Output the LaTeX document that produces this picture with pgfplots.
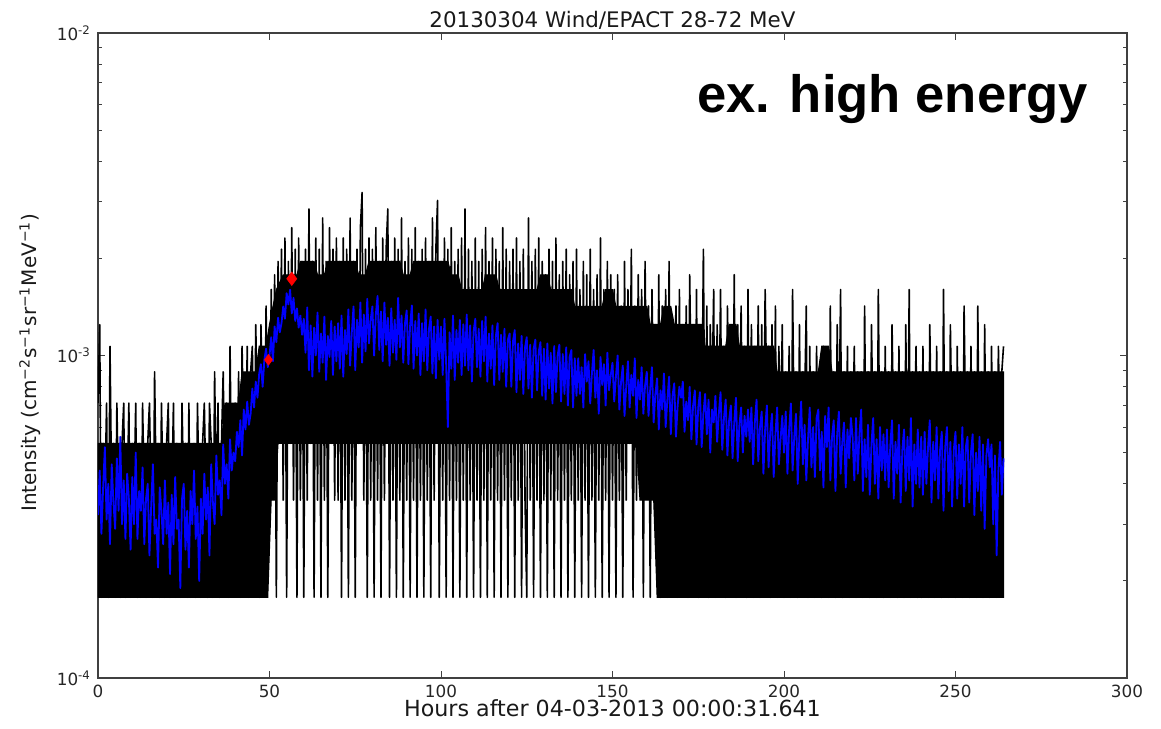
\documentclass[border=0pt]{standalone}
\usepackage{pgfplots}
\usepackage{pgfplotstable}
\pgfplotsset{compat=1.18}
\usepackage{fontspec}
\setmainfont{DejaVu Sans}
\newfontfamily\arialf{Liberation Sans}

% black: counts in units of 1.78e-4, sampled every 0.5 h from 0 h
\pgfplotstableread[row sep=\\]{k\\%
4\\7\\1\\3\\2\\4\\1\\6\\2\\3\\1\\4\\2\\1\\3\\4\\1\\2\\4\\1\\%
3\\2\\4\\1\\3\\1\\4\\2\\1\\3\\4\\2\\1\\5\\2\\3\\1\\4\\2\\1\\%
3\\4\\1\\2\\4\\1\\3\\2\\1\\4\\2\\3\\1\\4\\1\\2\\3\\1\\4\\2\\%
1\\3\\4\\2\\1\\4\\3\\1\\5\\2\\4\\1\\3\\5\\2\\4\\1\\6\\2\\3\\%
4\\2\\5\\1\\6\\3\\2\\6\\1\\5\\6\\2\\7\\3\\1\\7\\4\\2\\8\\3\\%
2\\9\\3\\10\\1\\11\\4\\12\\2\\13\\1\\11\\3\\14\\2\\12\\1\\13\\2\\11\\%
1\\12\\2\\16\\3\\11\\1\\13\\2\\12\\1\\15\\2\\11\\1\\14\\3\\12\\2\\13\\%
2\\11\\1\\13\\2\\12\\1\\15\\2\\11\\1\\12\\3\\14\\18\\2\\12\\1\\13\\2\\%
12\\1\\14\\2\\11\\1\\13\\2\\12\\16\\1\\11\\2\\13\\1\\12\\2\\15\\1\\11\\%
2\\13\\1\\12\\2\\14\\1\\11\\2\\12\\1\\13\\2\\11\\1\\15\\2\\12\\17\\1\\%
11\\2\\13\\1\\12\\2\\14\\1\\11\\2\\12\\1\\13\\2\\16\\1\\12\\2\\11\\1\\%
13\\2\\11\\1\\12\\2\\14\\1\\11\\2\\13\\1\\12\\2\\11\\1\\14\\2\\12\\1\\%
11\\2\\12\\1\\13\\2\\11\\1\\12\\2\\1\\15\\2\\11\\1\\12\\2\\13\\1\\11\\%
2\\10\\1\\12\\2\\11\\1\\13\\2\\10\\1\\11\\2\\12\\1\\10\\2\\11\\1\\12\\%
2\\9\\1\\11\\2\\10\\1\\12\\2\\9\\1\\10\\2\\13\\1\\9\\2\\11\\1\\10\\%
2\\9\\1\\10\\2\\8\\1\\11\\2\\9\\3\\12\\1\\8\\2\\10\\3\\9\\1\\11\\%
3\\8\\1\\9\\4\\7\\2\\10\\1\\8\\3\\9\\1\\11\\2\\7\\4\\8\\1\\9\\%
2\\7\\3\\8\\1\\10\\4\\7\\2\\9\\1\\7\\3\\12\\2\\8\\1\\7\\4\\9\\%
1\\7\\3\\9\\2\\6\\1\\8\\4\\7\\2\\10\\1\\7\\3\\8\\2\\6\\1\\9\\%
2\\7\\1\\6\\3\\8\\1\\7\\2\\9\\4\\6\\1\\7\\2\\8\\1\\6\\3\\7\\%
1\\5\\2\\6\\1\\9\\3\\5\\1\\7\\2\\5\\4\\8\\1\\6\\2\\5\\1\\6\\%
2\\5\\1\\6\\3\\5\\1\\8\\2\\5\\1\\7\\3\\9\\1\\5\\2\\6\\1\\5\\%
3\\6\\1\\5\\2\\5\\1\\8\\2\\5\\1\\7\\3\\5\\1\\9\\2\\5\\1\\6\\%
2\\5\\1\\7\\3\\5\\1\\6\\2\\5\\1\\7\\2\\9\\1\\5\\3\\6\\1\\5\\%
1\\6\\2\\5\\1\\7\\3\\5\\1\\6\\2\\5\\1\\9\\2\\5\\1\\7\\3\\5\\%
1\\6\\2\\5\\1\\8\\3\\5\\1\\6\\2\\5\\1\\8\\2\\5\\1\\7\\2\\5\\%
1\\6\\2\\5\\1\\6\\3\\5\\6\\%
}\blackdata

% dense core of the black trace: upper edge left to right, then lower edge right to left
\pgfplotstableread[row sep=\\]{h v\\%
0 5.34e-4\\ 36 5.34e-4\\ 37 7.12e-4\\ 41 7.12e-4\\ 42 8.9e-4\\ 46 8.9e-4\\ 47 1.07e-3\\ 49 1.07e-3\\ 50 1.25e-3\\ 51 1.42e-3\\ 52 1.6e-3\\ 54 1.78e-3\\%
58 1.78e-3\\ 59 1.96e-3\\ 63 1.96e-3\\ 64 1.78e-3\\ 66 1.78e-3\\ 67 1.96e-3\\ 75 1.96e-3\\ 76 1.78e-3\\ 78 1.78e-3\\ 79 1.96e-3\\ 88 1.96e-3\\ 89 1.78e-3\\%
91 1.78e-3\\ 92 1.96e-3\\ 102 1.96e-3\\ 103 1.78e-3\\ 105 1.78e-3\\ 106 1.6e-3\\ 112 1.6e-3\\ 113 1.78e-3\\ 116 1.78e-3\\ 117 1.6e-3\\ 128 1.6e-3\\ 129 1.78e-3\\%
131 1.78e-3\\ 132 1.6e-3\\ 138 1.6e-3\\ 139 1.42e-3\\ 147 1.42e-3\\ 148 1.6e-3\\ 150 1.6e-3\\ 151 1.42e-3\\ 160 1.42e-3\\ 161 1.25e-3\\ 164 1.25e-3\\ 165 1.42e-3\\%
167 1.42e-3\\ 168 1.25e-3\\ 176 1.25e-3\\ 177 1.07e-3\\ 183 1.07e-3\\ 184 1.25e-3\\ 186 1.25e-3\\ 187 1.07e-3\\ 197 1.07e-3\\ 198 8.9e-4\\ 210 8.9e-4\\ 211 1.07e-3\\%
213 1.07e-3\\ 214 8.9e-4\\ 264 8.9e-4\\%
264 1.78e-4\\ 163 1.78e-4\\ 162 3.56e-4\\ 158 3.56e-4\\ 157 5.34e-4\\ 52.5 5.34e-4\\ 51.5 3.56e-4\\ 50.5 3.56e-4\\ 49.5 1.78e-4\\ 0 1.78e-4\\%
}\coredata

% blue: intensity in units of 1e-4, sampled every 0.5 h from 0 h
\pgfplotstableread[row sep=\\]{b\\%
3.2\\4.4\\2.8\\3.9\\5.2\\3.1\\4.0\\2.6\\4.6\\3.5\\2.9\\4.8\\3.3\\5.6\\3.0\\4.1\\2.7\\4.3\\3.6\\2.5\\%
4.2\\3.0\\5.0\\2.7\\3.8\\3.3\\4.5\\2.6\\3.6\\4.0\\2.4\\3.4\\4.6\\2.8\\3.1\\2.2\\3.9\\3.3\\2.6\\4.1\\%
2.8\\3.5\\2.1\\3.7\\2.6\\4.2\\2.9\\3.1\\1.9\\3.6\\4.0\\2.5\\3.3\\2.2\\3.8\\3.0\\4.4\\2.7\\3.4\\2.0\\%
3.6\\2.8\\4.3\\3.1\\3.9\\2.4\\4.6\\3.5\\3.0\\4.9\\3.7\\4.1\\3.2\\5.3\\4.0\\4.6\\3.6\\5.5\\4.4\\5.0\\%
4.7\\5.8\\5.2\\6.3\\4.9\\6.8\\5.9\\7.2\\6.1\\6.6\\7.9\\6.9\\8.3\\7.4\\8.8\\9.4\\8.0\\9.7\\10.5\\9.2\\%
10.0\\11.4\\9.6\\12.3\\11.0\\13.1\\11.8\\12.6\\14.2\\13.0\\15.6\\14.4\\16.0\\13.5\\15.1\\12.8\\14.0\\12.2\\13.3\\11.6\\%
13.0\\10.2\\14.1\\9.0\\12.4\\8.6\\12.2\\10.0\\13.6\\8.9\\11.7\\9.5\\13.2\\8.4\\11.5\\9.9\\12.8\\8.7\\12.3\\9.6\\%
12.6\\9.1\\13.3\\8.6\\12.0\\10.1\\13.9\\9.3\\11.8\\14.2\\9.0\\12.9\\10.6\\14.6\\9.5\\13.4\\10.3\\15.0\\10.9\\12.9\\%
14.2\\10.0\\13.4\\15.3\\10.4\\13.7\\9.6\\14.6\\10.8\\13.1\\9.3\\14.0\\10.2\\12.9\\9.7\\15.1\\10.6\\13.3\\9.5\\12.6\\%
13.8\\9.4\\12.4\\14.3\\9.1\\12.8\\10.0\\13.5\\8.7\\12.6\\9.6\\13.9\\9.0\\12.1\\13.2\\8.8\\12.3\\8.5\\12.9\\9.7\\%
12.3\\8.7\\13.0\\9.4\\6.0\\11.8\\9.1\\13.3\\8.4\\12.0\\9.5\\12.9\\8.7\\12.5\\9.3\\13.4\\9.0\\12.4\\8.3\\11.9\\%
13.0\\9.2\\12.1\\8.6\\12.8\\9.6\\13.2\\8.3\\11.7\\9.1\\12.4\\8.1\\11.5\\12.6\\8.4\\11.6\\8.9\\12.1\\8.0\\11.2\\%
11.7\\8.0\\11.1\\12.0\\7.7\\10.9\\8.4\\11.5\\7.6\\10.6\\11.4\\7.9\\10.8\\7.4\\10.5\\11.2\\7.8\\10.3\\11.0\\7.5\\%
10.5\\7.3\\10.9\\7.9\\10.2\\7.1\\10.7\\7.7\\10.0\\10.8\\7.2\\10.1\\7.6\\10.6\\7.0\\9.9\\10.4\\6.9\\9.8\\7.5\\%
9.8\\7.6\\9.2\\6.9\\10.1\\8.3\\9.6\\7.1\\8.8\\10.4\\7.4\\9.0\\6.6\\9.9\\8.1\\9.4\\7.0\\10.2\\7.8\\8.7\\%
9.5\\7.2\\8.6\\10.0\\6.8\\8.3\\9.3\\6.5\\8.0\\9.6\\6.9\\8.7\\7.5\\9.8\\6.4\\8.4\\7.3\\9.2\\6.6\\8.1\\%
8.9\\6.5\\7.9\\9.2\\6.2\\7.6\\8.5\\5.9\\7.8\\6.8\\8.8\\6.0\\7.3\\8.6\\5.7\\7.5\\8.2\\5.6\\7.0\\8.0\\%
7.4\\8.3\\5.8\\7.2\\6.3\\8.0\\5.5\\7.0\\7.8\\5.3\\6.9\\7.7\\5.2\\6.6\\7.6\\5.7\\7.3\\5.0\\6.8\\6.2\\%
7.5\\5.4\\6.6\\7.7\\5.1\\6.4\\7.3\\4.9\\6.3\\7.0\\4.8\\6.2\\7.4\\4.7\\6.1\\6.9\\5.0\\6.5\\5.6\\6.8\\%
5.4\\6.9\\4.6\\6.2\\7.3\\4.7\\6.0\\6.7\\4.3\\5.9\\7.0\\4.5\\5.8\\6.6\\4.2\\5.7\\6.9\\4.6\\5.5\\6.5\\%
5.0\\6.7\\4.3\\5.9\\7.1\\4.4\\5.6\\6.6\\4.0\\5.7\\7.2\\4.6\\6.1\\4.1\\5.5\\6.9\\4.5\\6.0\\4.2\\6.4\\%
6.8\\4.4\\5.8\\3.9\\6.5\\5.2\\6.9\\4.1\\5.6\\6.3\\3.8\\5.7\\6.7\\4.3\\5.4\\6.2\\3.9\\5.9\\4.8\\6.4\\%
5.6\\4.1\\6.4\\4.3\\5.7\\6.8\\3.8\\5.5\\4.2\\6.1\\3.7\\5.3\\6.4\\4.0\\5.5\\3.6\\6.0\\4.4\\5.7\\4.1\\%
5.9\\3.9\\5.3\\6.3\\3.6\\5.4\\4.3\\6.1\\3.5\\5.1\\5.9\\3.8\\5.6\\4.1\\6.4\\3.4\\5.3\\4.0\\5.9\\3.9\\%
5.6\\3.7\\5.8\\4.0\\5.2\\6.3\\3.5\\5.4\\4.1\\6.0\\3.6\\5.1\\5.8\\3.3\\5.2\\6.0\\3.8\\5.4\\3.4\\5.1\\%
5.8\\3.6\\5.3\\4.0\\6.0\\3.4\\5.2\\5.6\\3.5\\5.0\\5.7\\3.2\\5.0\\3.8\\5.6\\3.3\\5.3\\2.9\\4.9\\5.5\\%
4.5\\5.3\\3.0\\4.9\\2.4\\4.4\\5.4\\3.7\\4.8\\%
}\bluedata

\begin{document}
\begin{tikzpicture}
\useasboundingbox (-49pt,-25pt) rectangle (531.5pt,339pt);
\begin{axis}[
  scale only axis, width=514.5pt, height=322.5pt,
  at={(0,0)}, anchor=south west,
  ymode=log, xmin=0, xmax=300, ymin=1e-4, ymax=1e-2,
  xtick={0,50,100,150,200,250,300},
  xticklabels={0,50,100,150,200,250,300},
  ytick={1e-4,1e-3,1e-2},
  yticklabels={10\textsuperscript{-4},10\textsuperscript{-3},10\textsuperscript{-2}},
  minor ytick={2e-4,3e-4,4e-4,5e-4,6e-4,7e-4,8e-4,9e-4,2e-3,3e-3,4e-3,5e-3,6e-3,7e-3,8e-3,9e-3},
  tick align=inside,
  major tick length=3.5pt, minor tick length=2pt,
  axis line style={black!75, line width=0.6pt},
  tick style={black!75, line width=0.5pt},
  xticklabel style={font=\fontsize{8.4}{10}\selectfont, text=black!85},
  yticklabel style={font=\fontsize{8.4}{10}\selectfont, text=black!85},
  every axis title shift=0pt,
  title={20130304 Wind/EPACT 28-72 MeV},
  title style={font=\fontsize{10.7}{12}\selectfont, text=black!90, at={(axis description cs:0.5,1)}, anchor=base, yshift=3pt},
  xlabel={Hours after 04-03-2013 00:00:31.641},
  xlabel style={font=\fontsize{11.1}{13}\selectfont, text=black!90, at={(axis description cs:0.5,0)}, anchor=base, yshift=-19.3pt},
  ylabel={Intensity (cm\textsuperscript{−2}s\textsuperscript{−1}sr\textsuperscript{−1}MeV\textsuperscript{−1})},
  ylabel style={font=\fontsize{10}{12}\selectfont, text=black!90, at={(axis description cs:-0.066,0.489)}, anchor=center},
]
\addplot[fill=black, draw=black, line width=0.5pt] table[x=h, y=v] {\coredata} -- cycle;
\addplot[black, line width=0.8pt, line join=round] table[x index=0, y index=0, x expr=\coordindex*0.5, y expr=\thisrow{k}*1.78e-4] {\blackdata};
\addplot[blue, line width=0.9pt, line join=round] table[x index=0, y index=0, x expr=\coordindex*0.5, y expr=\thisrow{b}*1e-4] {\bluedata};
\addplot[only marks, mark=diamond*, mark size=2.6pt, color=red, mark options={fill=red, draw=red}] coordinates {(49.7,9.7e-4)};
\addplot[only marks, mark=diamond*, mark size=3.3pt, color=red, mark options={fill=red, draw=red}] coordinates {(56.5,1.73e-3)};
\node[anchor=base west, inner sep=0pt, font=\arialf\bfseries\fontsize{26.3}{30}\selectfont] at (rel axis cs:0.5821,0.876) {ex. high energy};
\end{axis}
\end{tikzpicture}
\end{document}
